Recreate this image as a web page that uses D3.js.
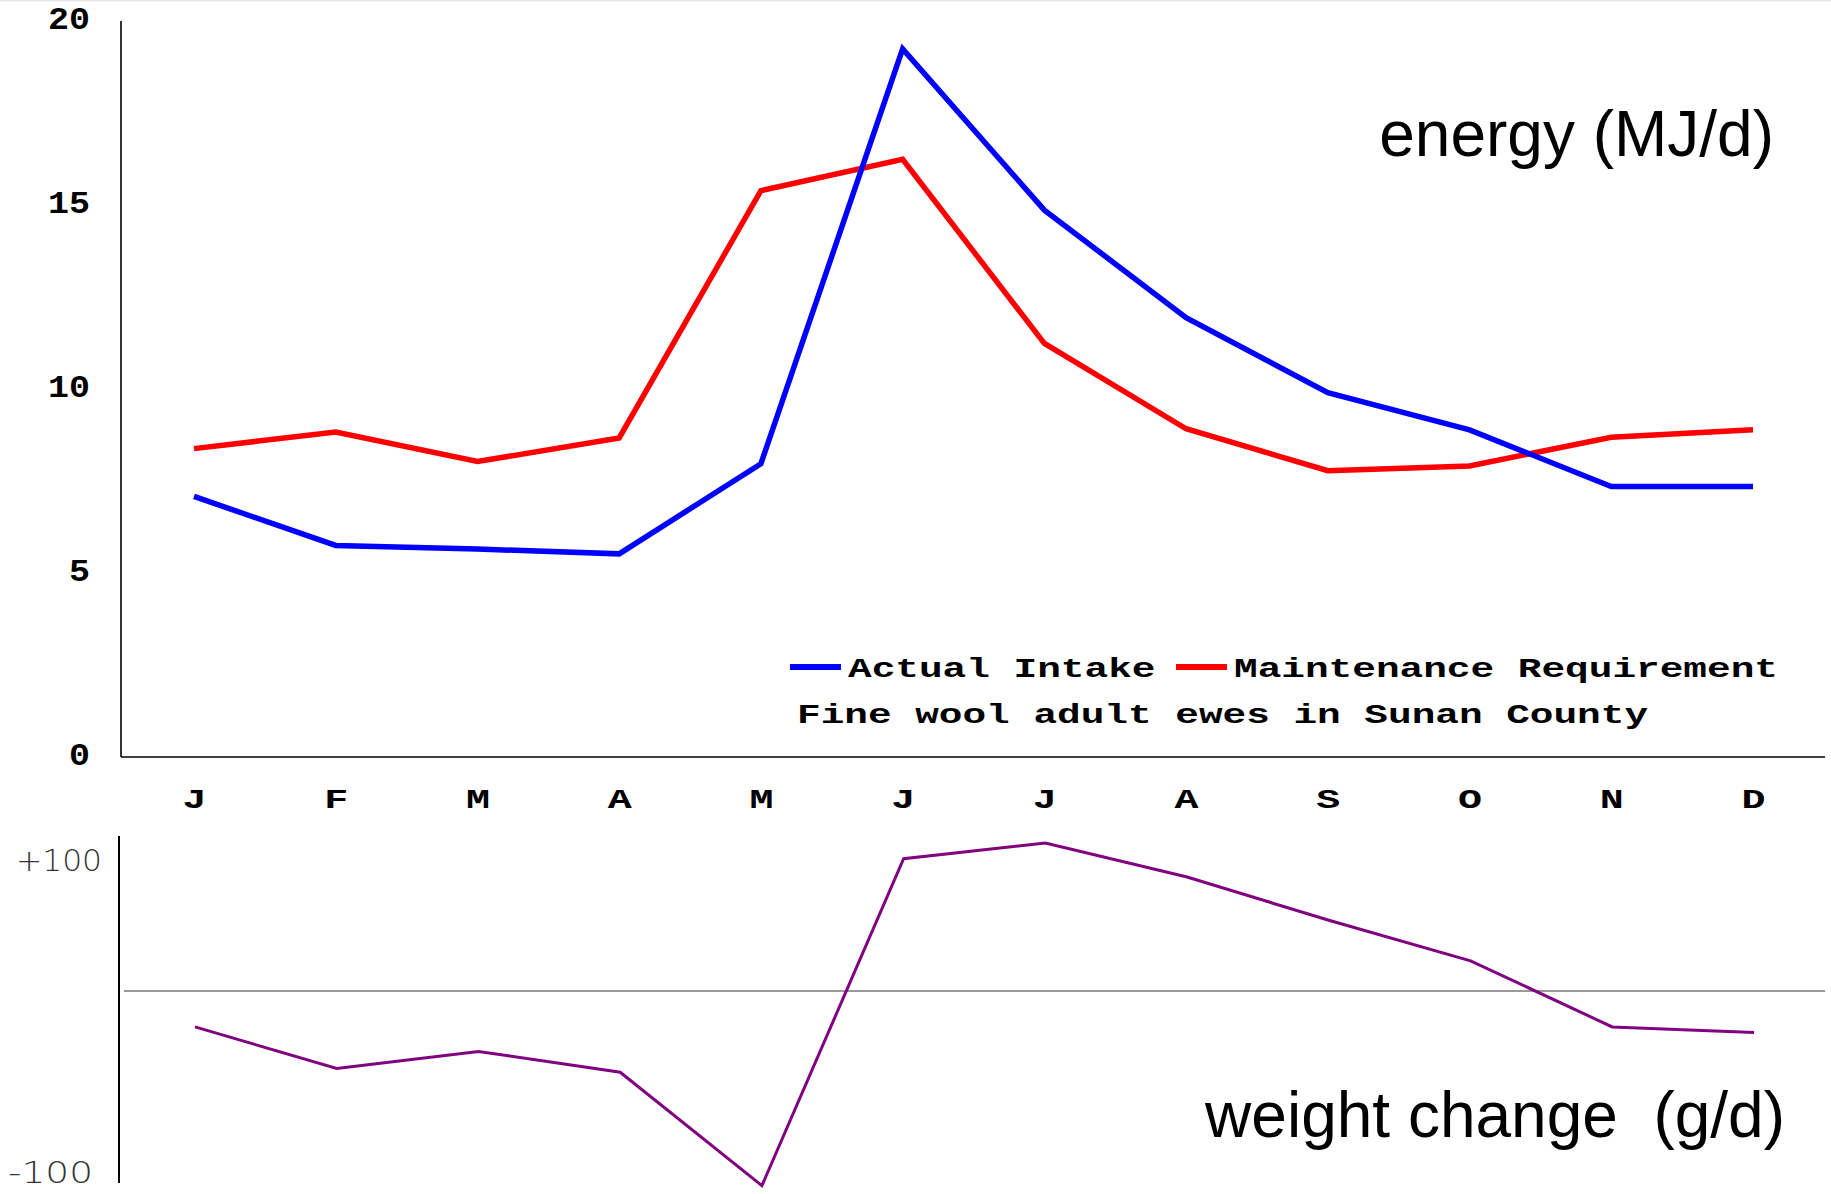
<!DOCTYPE html>
<html>
<head>
<meta charset="utf-8">
<script src="https://cdn.jsdelivr.net/npm/d3@7"></script>
<style>
  html, body { margin: 0; padding: 0; background: #fff; }
  svg { display: block; }
  .mono { font-family: "Liberation Mono", "Courier New", monospace; font-weight: bold; fill: #000; }
  .sans { font-family: "Liberation Sans", Arial, sans-serif; fill: #000; }
  .thin { font-family: "DejaVu Sans", sans-serif; font-weight: 200; fill: #333; }
</style>
</head>
<body>
<script>
// ---- data ----
const months = ["Jan","Feb","Mar","Apr","May","Jun","Jul","Aug","Sep","Oct","Nov","Dec"];
const monthLabels = ["J","F","M","A","M","J","J","A","S","O","N","D"];
const actualIntake = [7.08, 5.75, 5.65, 5.52, 7.97, 19.24, 14.86, 11.94, 9.9, 8.89, 7.35, 7.35];
const maintenanceRequirement = [8.38, 8.83, 8.03, 8.67, 15.39, 16.24, 11.24, 8.92, 7.78, 7.91, 8.69, 8.89];
const weightChange = [-19, -41, -32, -43, -103, 101, 113, 87, 54, 23, -19, -22];
const energyTicks = [0, 5, 10, 15, 20];
const weightTicks = [100, -100];
const weightTickLabels = ["+100", "-100"];
const seriesNames = ["Actual Intake", "Maintenance Requirement"];
const subtitle = "Fine wool adult ewes in Sunan County";
const energyTitle = "energy (MJ/d)";
const weightTitle = "weight change  (g/d)";

// ---- layout ----
const W = 1831, H = 1194;
const svg = d3.select("body").append("svg").attr("width", W).attr("height", H);

svg.append("line").attr("x1", 0).attr("x2", W).attr("y1", 0.5).attr("y2", 0.5)
  .attr("stroke", "#e3e7e8").attr("stroke-width", 2);

const x = d3.scalePoint().domain(months).range([194, 1753]);
const yTop = d3.scaleLinear().domain([0, 20]).range([757, 21]);
const yBot = d3.scaleLinear().domain([-100, 0, 100]).range([1180, 991, 860]);

const topAxisX = 121, rightEdge = 1825;

// top axes lines
svg.append("line").attr("x1", topAxisX).attr("x2", topAxisX)
  .attr("y1", yTop(20)).attr("y2", yTop(0)).attr("stroke", "#000").attr("stroke-width", 1.6);
svg.append("line").attr("x1", topAxisX).attr("x2", rightEdge)
  .attr("y1", yTop(0)).attr("y2", yTop(0)).attr("stroke", "#000").attr("stroke-width", 1.6);

// y tick labels (top)
const yAx = svg.append("g").attr("transform", `translate(${topAxisX},0)`)
  .call(d3.axisLeft(yTop).tickValues(energyTicks).tickSize(0).tickPadding(31).tickFormat(d3.format("d")));
yAx.select(".domain").remove();
yAx.selectAll("text")
  .attr("class", "mono").attr("font-size", 31).attr("font-family", null)
  .attr("dy", "0.24em")
  .attr("textLength", d => String(d).length * 21).attr("lengthAdjust", "spacingAndGlyphs");

// month labels
const xAx = svg.append("g").attr("transform", `translate(0,${yTop(0)})`)
  .call(d3.axisBottom(x).tickSize(0).tickPadding(0).tickFormat((d, i) => monthLabels[i]));
xAx.select(".domain").remove();
xAx.selectAll("text")
  .attr("class", "mono").attr("font-size", 27).attr("font-family", null)
  .attr("y", 51).attr("dy", 0)
  .attr("textLength", 24).attr("lengthAdjust", "spacingAndGlyphs");

// energy lines
const lineTop = d3.line().x((d, i) => x(months[i])).y(d => yTop(d));
svg.append("path").datum(maintenanceRequirement).attr("d", lineTop)
  .attr("fill", "none").attr("stroke", "#ff0000").attr("stroke-width", 5.5).attr("stroke-linejoin", "miter");
svg.append("path").datum(actualIntake).attr("d", lineTop)
  .attr("fill", "none").attr("stroke", "#0000ff").attr("stroke-width", 5.5).attr("stroke-linejoin", "miter");

// legend
const legendColors = ["#0000ff", "#ff0000"];
const legendX = [790, 1176];
const legendY = 667;
seriesNames.forEach((name, i) => {
  svg.append("line").attr("x1", legendX[i]).attr("x2", legendX[i] + 51)
    .attr("y1", legendY).attr("y2", legendY)
    .attr("stroke", legendColors[i]).attr("stroke-width", 6);
  svg.append("text").attr("class", "mono").attr("font-size", 27)
    .attr("x", legendX[i] + 58).attr("y", legendY + 10)
    .attr("textLength", name.length * 23.65).attr("lengthAdjust", "spacingAndGlyphs")
    .text(name);
});
svg.append("text").attr("class", "mono").attr("font-size", 27)
  .attr("x", 797).attr("y", 723)
  .attr("textLength", subtitle.length * 23.64).attr("lengthAdjust", "spacingAndGlyphs")
  .text(subtitle);

// titles
svg.append("text").attr("class", "sans").attr("font-size", 64)
  .attr("x", 1774).attr("y", 156).attr("text-anchor", "end").text(energyTitle);
svg.append("text").attr("class", "sans").attr("font-size", 64)
  .attr("x", 1785).attr("y", 1137).attr("text-anchor", "end")
  .style("white-space", "pre").text(weightTitle);

// bottom panel
const botAxisX = 119;
svg.append("line").attr("x1", botAxisX).attr("x2", botAxisX)
  .attr("y1", 836).attr("y2", 1183).attr("stroke", "#000").attr("stroke-width", 2);
svg.append("line").attr("x1", 124).attr("x2", rightEdge)
  .attr("y1", yBot(0)).attr("y2", yBot(0)).attr("stroke", "#777").attr("stroke-width", 1.6);

weightTicks.forEach((t, i) => {
  svg.append("text").attr("class", "thin").attr("font-size", 30)
    .attr("x", i === 0 ? 102 : 93).attr("y", yBot(t)).attr("dy", i === 0 ? "0.36em" : "0.1em")
    .attr("text-anchor", "end")
    .attr("textLength", i === 0 ? 86 : 85).attr("lengthAdjust", "spacingAndGlyphs")
    .text(weightTickLabels[i]);
});

const lineBot = d3.line().x((d, i) => x(months[i]) + 1).y(d => yBot(d));
svg.append("path").datum(weightChange).attr("d", lineBot)
  .attr("fill", "none").attr("stroke", "#800080").attr("stroke-width", 3).attr("stroke-linejoin", "miter");
</script>
</body>
</html>
